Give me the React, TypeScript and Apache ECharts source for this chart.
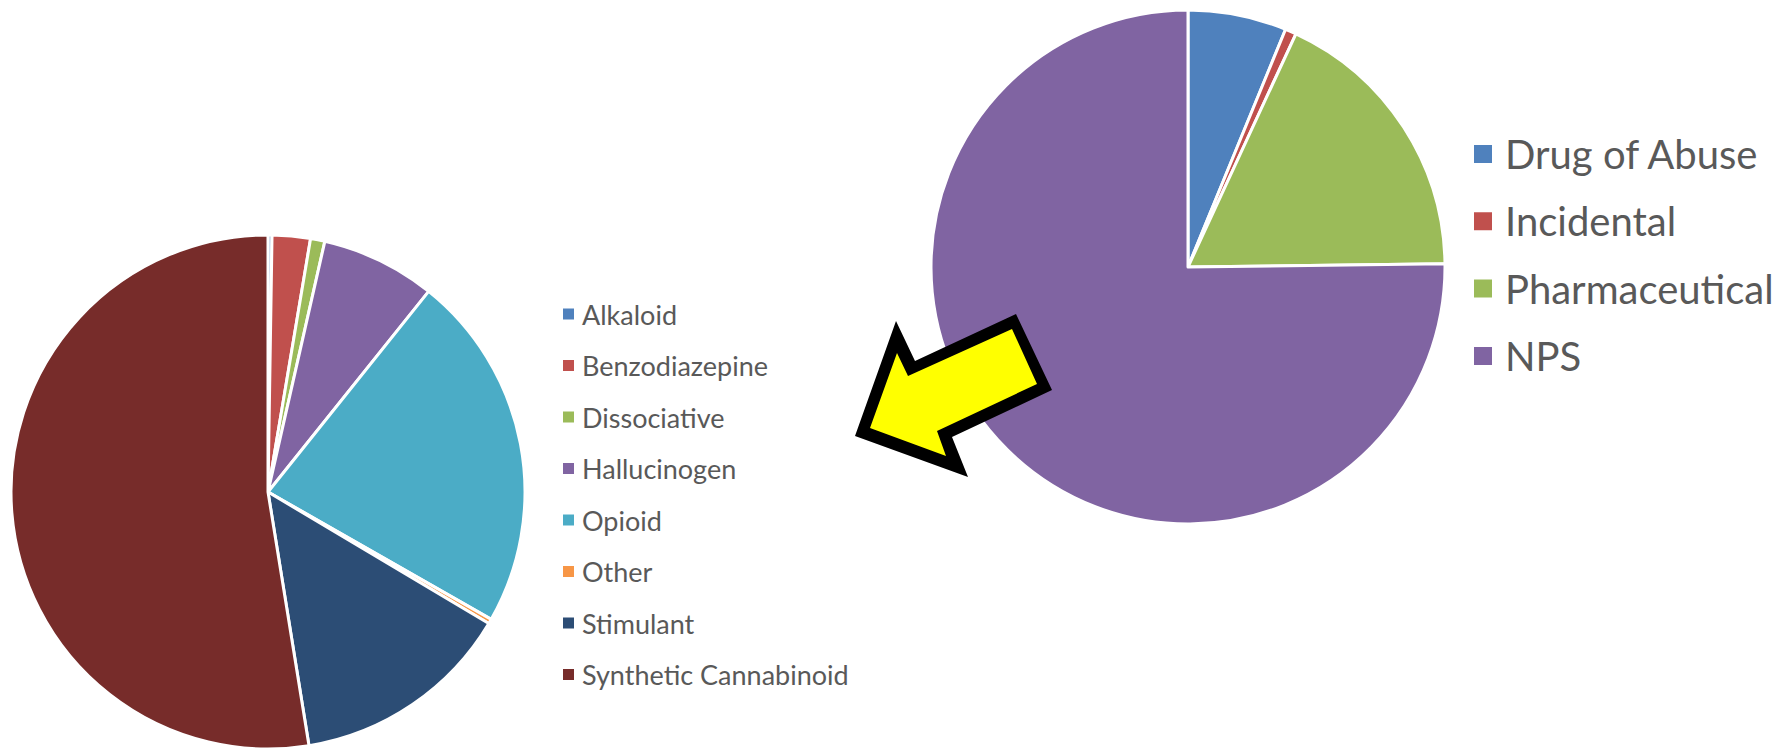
import React, { useEffect, useRef } from "react";
import * as echarts from "echarts";

const leftNames = ["Alkaloid", "Benzodiazepine", "Dissociative", "Hallucinogen", "Opioid", "Other", "Stimulant", "Synthetic Cannabinoid"];
const leftValues = [0.25, 2.4, 0.9, 7.2, 22.5, 0.3, 13.9, 52.55];
const leftColors = ["#4F81BD", "#C0504D", "#9BBB59", "#8064A2", "#4BACC6", "#F79646", "#2C4D75", "#772C2A"];

const rightNames = ["Drug of Abuse", "Incidental", "Pharmaceutical", "NPS"];
const rightValues = [6.2, 0.7, 17.9, 75.2];
const rightColors = ["#4F81BD", "#C0504D", "#9BBB59", "#8064A2"];

const arrowOuter = [[855, 436], [896, 321], [915, 361], [1016, 314], [1052, 390], [952, 437], [968, 477]];
const arrowInner = [[870, 428], [897, 353], [908, 376], [1012, 329], [1037, 384], [937, 431], [946, 456]];

const FONT = "Lato";

export default function App() {
  const ref = useRef<HTMLDivElement>(null);
  useEffect(() => {
    document.body.style.margin = "0";
    const chart = echarts.init(ref.current!, null, { renderer: "svg" });
    const mk = (names: string[], values: number[], colors: string[]) =>
      names.map((n, i) => ({ name: n, value: values[i], itemStyle: { color: colors[i] } }));
    chart.setOption({
      animation: false,
      backgroundColor: "#ffffff",
      legend: [
        {
          orient: "vertical",
          left: 556,
          top: 294,
          data: leftNames,
          icon: "rect",
          itemWidth: 13,
          itemHeight: 13,
          itemGap: 21.5,
          selectedMode: false,
          textStyle: { color: "#595959", fontFamily: FONT, fontSize: 27, lineHeight: 30, padding: [0, 0, 0, 2] },
        },
        {
          orient: "vertical",
          left: 1467,
          top: 129,
          data: rightNames,
          icon: "rect",
          itemWidth: 20,
          itemHeight: 20,
          itemGap: 27.3,
          selectedMode: false,
          textStyle: { color: "#595959", fontFamily: FONT, fontSize: 40, lineHeight: 40, padding: [0, 0, 0, 7] },
        },
      ],
      series: [
        {
          type: "pie",
          center: [268, 492],
          radius: 257,
          startAngle: 90,
          clockwise: true,
          label: { show: false },
          labelLine: { show: false },
          emphasis: { disabled: true },
          itemStyle: { borderColor: "#ffffff", borderWidth: 3 },
          data: mk(leftNames, leftValues, leftColors),
        },
        {
          type: "pie",
          center: [1188, 267],
          radius: 257,
          startAngle: 90,
          clockwise: true,
          label: { show: false },
          labelLine: { show: false },
          emphasis: { disabled: true },
          itemStyle: { borderColor: "#ffffff", borderWidth: 3 },
          data: mk(rightNames, rightValues, rightColors),
        },
      ],
      graphic: [
        { type: "polygon", z: 100, shape: { points: arrowOuter }, style: { fill: "#000000" } },
        { type: "polygon", z: 101, shape: { points: arrowInner }, style: { fill: "#FFFF00" } },
      ],
    });
    return () => chart.dispose();
  }, []);
  return <div ref={ref} style={{ width: 1787, height: 749 }} />;
}
